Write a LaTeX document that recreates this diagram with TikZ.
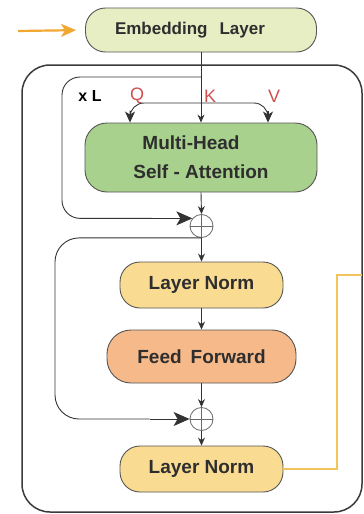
\documentclass[tikz,border=0pt]{standalone}
\usepackage{fontspec}
\setmainfont{Liberation Sans}
\usetikzlibrary{arrows.meta,calc}
\definecolor{embfill}{HTML}{E8EEC4}
\definecolor{mhsafill}{HTML}{A9D18E}
\definecolor{lnfill}{HTML}{F9DC92}
\definecolor{fffill}{HTML}{F6B98A}
\definecolor{boxline}{HTML}{555555}
\definecolor{frame}{HTML}{3A3A3A}
\definecolor{lineclr}{HTML}{333333}
\definecolor{txt}{HTML}{2E2E2E}
\definecolor{qkv}{HTML}{CF4F4F}
\definecolor{orin}{HTML}{F0A830}
\definecolor{orout}{HTML}{F2C45A}
\definecolor{addclr}{HTML}{6A6A6A}
\begin{document}
\begin{tikzpicture}[x=1pt,y=-1pt,
  box/.style={draw=boxline, line width=0.9pt, inner sep=0pt, text=txt,
    font=\bfseries\fontsize{19}{29}\selectfont, align=center},
  arr/.style={draw=lineclr, line width=0.9pt, -{Stealth[length=8pt,width=7pt]}},
  skipline/.style={draw=lineclr, line width=0.9pt, rounded corners=18pt},
  skiptip/.style={draw=lineclr, line width=0.9pt, -{Stealth[length=16pt,width=14pt,inset=4pt]}},
  qvtip/.style={draw=lineclr, line width=0.9pt, -{Stealth[length=11pt,width=10pt,inset=3pt]}},
  addnode/.style={circle, draw=addclr, line width=0.8pt, minimum size=23pt,
    inner sep=0pt, fill=white},
  lbl/.style={text=qkv, font=\fontsize{18}{20}\selectfont, inner sep=0pt}]
\useasboundingbox (0,0) rectangle (364,514);

% outer block
\node[draw=frame, line width=1.5pt, minimum width=340pt, minimum height=447pt,
  rounded corners=28pt, inner sep=0pt] (blk) at (192,288.5) {};

% nodes
\node[box, fill=embfill, minimum width=231pt, minimum height=44pt, rounded corners=20pt,
  font=\bfseries\fontsize{17}{20}\selectfont] (emb) at (201,30)
  {Embedding\hspace{12pt}Layer\hspace*{22pt}};
\node[box, fill=mhsafill, minimum width=232pt, minimum height=69pt, rounded corners=22pt]
  (mhsa) at (201,157.5) {Multi-Head\hspace*{20pt}\\Self - Attention};
\node[addnode] (add1) at (201.5,226) {};
\node[box, fill=lnfill, minimum width=163pt, minimum height=46pt, rounded corners=20pt]
  (ln1) at (201.5,285) {Layer Norm};
\node[box, fill=fffill, minimum width=189pt, minimum height=53pt, rounded corners=24pt]
  (ff) at (201.5,356.5) {Feed\hspace{9pt}Forward};
\node[addnode] (add2) at (201.5,419) {};
\node[box, fill=lnfill, minimum width=163pt, minimum height=46pt, rounded corners=20pt]
  (ln2) at (201.5,469) {Layer Norm};

% plus signs
\draw[addclr, line width=0.8pt] (add1.north) -- (add1.south) (add1.west) -- (add1.east);
\draw[addclr, line width=0.8pt] (add2.north) -- (add2.south) (add2.west) -- (add2.east);

% labels
\node[font=\bfseries\fontsize{16}{18}\selectfont, inner sep=0pt] (xl) at (90,96) {x L};
\node[lbl] (q) at (137,96) {Q};
\node[lbl] (k) at (210,96) {K};
\node[lbl] (v) at (274,96) {V};

% input arrow
\coordinate (in) at (18,31);
\draw[orin, line width=2.2pt, -{Stealth[length=15pt,width=13pt,inset=4pt]}, shorten >=9pt] (in) -- (emb.west);

% K arrow and Q/V bracket
\draw[arr] (emb.south -| mhsa.north) -- (mhsa.north);
\coordinate (qx) at (130,103);
\coordinate (vx) at (268,103);
\draw[skipline, rounded corners=14pt] (qx |- mhsa.north) ++(0,-12) -- (qx) -- (vx) -- ++(0,8);
\draw[qvtip] (qx |- mhsa.north) ++(0,-12) -- (qx |- mhsa.north);
\draw[qvtip] (vx |- mhsa.north) ++(0,-12) -- (vx |- mhsa.north);

% main chain
\draw[arr] (mhsa.south) -- (add1.north);
\draw[arr] (add1.south) -- (ln1.north);
\draw[arr] (ln1.south) -- (ff.north);
\draw[arr] (ff.south) -- (add2.north);
\draw[arr] (add2.south) -- (ln2.north);

% residual connections
\coordinate (k1) at (201,77);
\coordinate (s1) at ($(add1.140)+(-40,0)$);
\draw[skipline] (k1) -- (62,77) |- (s1);
\draw[skiptip] (s1) -- (add1.140);
\coordinate (s2) at ($(add2.west)+(-40,0)$);
\draw[skipline, rounded corners=24pt] (add1.south) -| (55,330) |- (s2);
\draw[skiptip] (s2) -- (add2.west);

% output line
\coordinate (out) at (362,275);
\draw[orout, line width=1.3pt] (ln2.east) -| (337,275) -- (out);
\end{tikzpicture}
\end{document}
